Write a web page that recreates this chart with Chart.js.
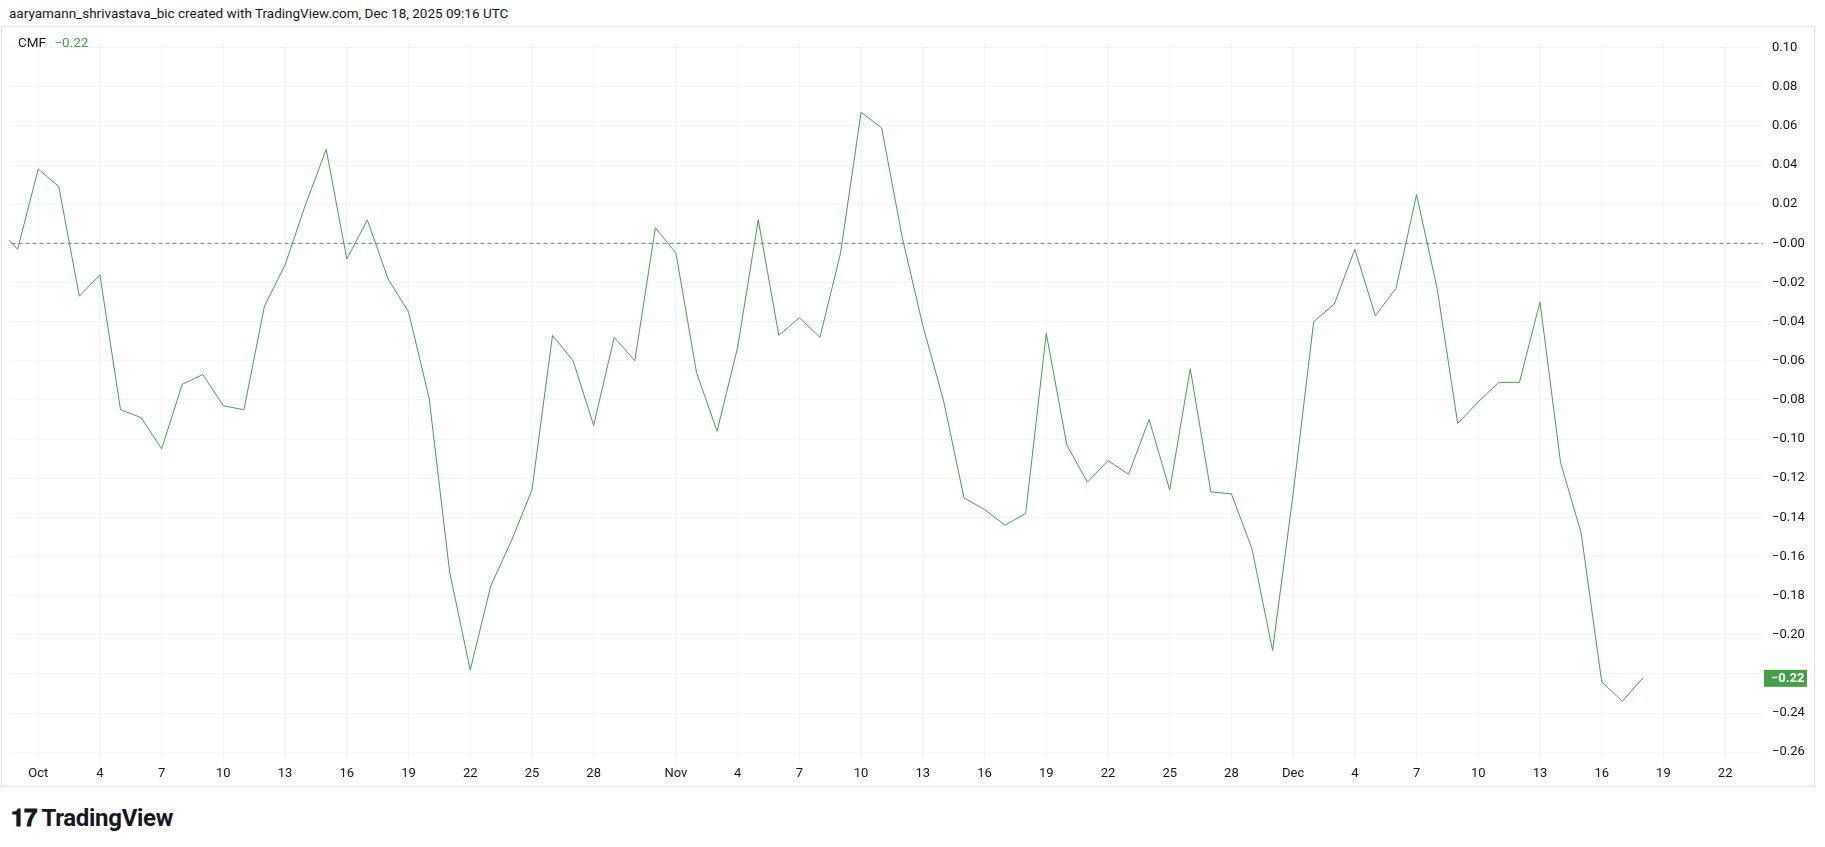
<!DOCTYPE html>
<html><head><meta charset="utf-8">
<script src="https://cdn.jsdelivr.net/npm/chart.js@4.4.0/dist/chart.umd.min.js"></script>
<style>
body{margin:0;background:#fff;font-family:Roboto,"Liberation Sans",sans-serif;color:#131722;width:1825px;height:847px;overflow:hidden;position:relative}
#hdr{position:absolute;left:9px;top:5px;font-size:13.5px}
#frame{position:absolute;left:1px;top:26px;width:1814px;height:761px;border:1px solid #e0e3eb;box-sizing:border-box}
#wrap{position:absolute;left:1px;top:26px;width:1814px;height:761px}
#leg{position:absolute;left:18px;top:34px;font-size:13.5px;z-index:2}
#leg b{font-weight:normal;color:#43a047;margin-left:5px}
#logo{position:absolute;left:11px;top:804px;font-size:24px;font-weight:bold;letter-spacing:-0.3px}
</style></head><body>
<div id="hdr">aaryamann_shrivastava_bic created with TradingView.com, Dec 18, 2025 09:16 UTC</div>
<div id="frame"></div>
<div id="leg">CMF <b>−0.22</b></div>
<div id="wrap"><canvas id="c" width="1814" height="761" style="width:1814px;height:761px"></canvas></div>
<div id="logo"><span>𝟏𝟕</span> TradingView</div>
<script>
// day index: 0 = Oct 1
const startDay = -2;
const cmf = [0.008,-0.003,0.038,0.029,-0.027,-0.016,-0.085,-0.089,-0.105,-0.072,-0.067,-0.083,-0.085,-0.032,-0.011,0.020,0.048,-0.008,0.012,-0.018,-0.035,-0.079,-0.168,-0.218,-0.175,-0.152,-0.126,-0.047,-0.060,-0.093,-0.048,-0.060,0.008,-0.005,-0.066,-0.096,-0.053,0.012,-0.047,-0.038,-0.048,-0.005,0.067,0.059,0.003,-0.042,-0.080,-0.130,-0.136,-0.144,-0.138,-0.046,-0.103,-0.122,-0.111,-0.118,-0.090,-0.126,-0.064,-0.127,-0.128,-0.156,-0.208,-0.128,-0.040,-0.031,-0.003,-0.037,-0.023,0.025,-0.023,-0.092,-0.081,-0.071,-0.071,-0.030,-0.112,-0.148,-0.224,-0.234,-0.222];
const tickDays   = [0,3,6,9,12,15,18,21,24,27,31,34,37,40,43,46,49,52,55,58,61,64,67,70,73,76,79,82];
const tickLabels = ['Oct','4','7','10','13','16','19','22','25','28','Nov','4','7','10','13','16','19','22','25','28','Dec','4','7','10','13','16','19','22'];
const yTicks = [0.10,0.08,0.06,0.04,0.02,0,-0.02,-0.04,-0.06,-0.08,-0.10,-0.12,-0.14,-0.16,-0.18,-0.20,-0.22,-0.24,-0.26];

const points = cmf.map((v,i)=>({x:startDay+i,y:v}));
const fmt = v => (v<=0 ? '−' : '') + Math.abs(v).toFixed(2);
const lastVal = cmf[cmf.length-1];

const lastLabel = {
  id:'lastLabel',
  afterDraw(ch){
    const {ctx, scales:{y}} = ch;
    const py = y.getPixelForValue(lastVal);
    ctx.save();
    ctx.fillStyle = '#43a047';
    ctx.fillRect(y.left+1, py-8, 43, 17);
    ctx.fillStyle = '#fff'; ctx.font = 'bold 13px Roboto';
    ctx.textBaseline = 'middle'; ctx.fillText(fmt(lastVal), y.left+8, py+1);
    ctx.restore();
  }
};

new Chart(document.getElementById('c'), {
  type:'line',
  data:{datasets:[
    {data:points, borderColor:'#43a047', borderWidth:1, pointRadius:0, tension:0},
    {data:[{x:-3,y:0},{x:85,y:0}], borderColor:'#787b86', borderWidth:1, borderDash:[4,3], pointRadius:0}
  ]},
  options:{
    responsive:false, animation:false, events:[], devicePixelRatio:1,
    layout:{padding:{left:8}},
    plugins:{legend:{display:false}, tooltip:{enabled:false}},
    scales:{
      x:{type:'linear', min:-1.42, max:83.84,
        afterBuildTicks:s=>{s.ticks = tickDays.map(v=>({value:v}));},
        afterFit:s=>{s.height = 26;},
        grid:{color:'#f0f3fa', drawTicks:false}, border:{display:false},
        ticks:{padding:5, autoSkip:false, maxRotation:0, color:'#131722', font:{family:'Roboto', size:13},
          callback:v=>tickLabels[tickDays.indexOf(v)]}},
      y:{position:'right', min:-0.2645, max:0.1025,
        afterBuildTicks:s=>{s.ticks = yTicks.map(v=>({value:v}));},
        afterFit:s=>{s.width = 52;},
        grid:{color:'#f0f3fa', drawTicks:false}, border:{display:false},
        ticks:{padding:9, autoSkip:false, color:'#131722', font:{family:'Roboto', size:13},
          callback:v=>Math.abs(v-lastVal)<0.005 ? '' : fmt(v)}}
    }
  },
  plugins:[lastLabel]
});
</script>
</body></html>
